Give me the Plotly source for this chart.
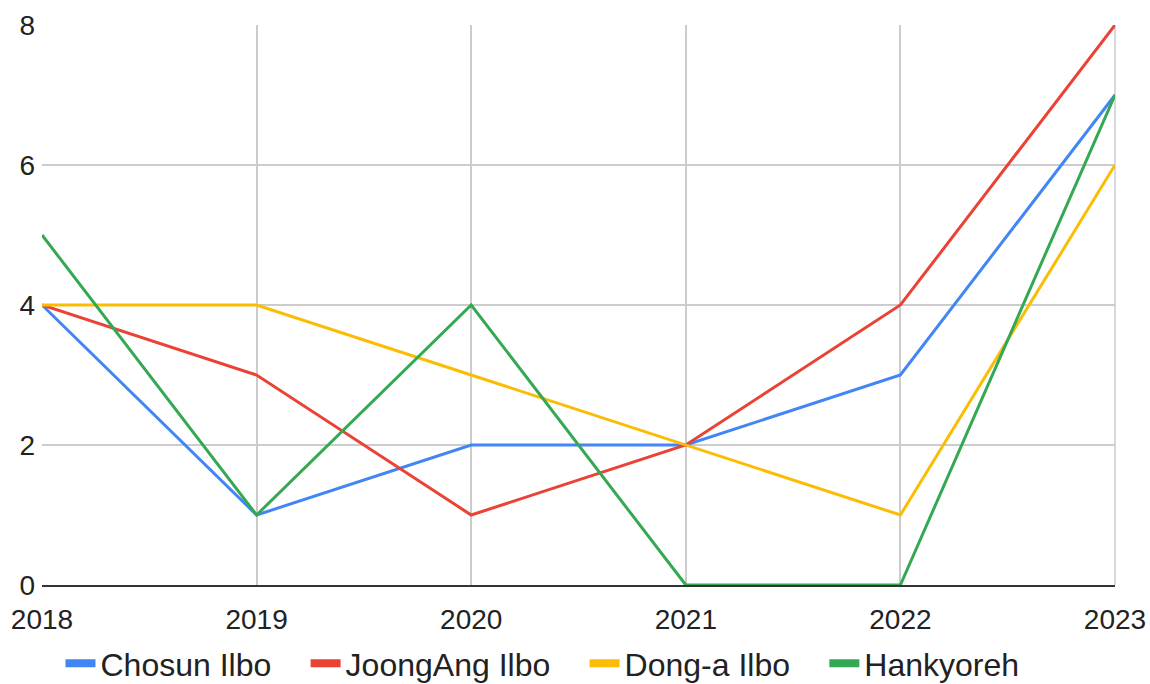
import plotly.graph_objects as go

years = ["2018", "2019", "2020", "2021", "2022", "2023"]
chosun = [4, 1, 2, 2, 3, 7]
joongang = [4, 3, 1, 2, 4, 8]
donga = [4, 4, 3, 2, 1, 6]
hankyoreh = [5, 1, 4, 0, 0, 7]

series = [
    ("Chosun Ilbo", chosun, "#4285F4"),
    ("JoongAng Ilbo", joongang, "#EA4335"),
    ("Dong-a Ilbo", donga, "#FBBC04"),
    ("Hankyoreh", hankyoreh, "#34A853"),
]

fig = go.Figure()
for name, vals, color in series:
    fig.add_trace(go.Scatter(
        x=list(range(len(years))), y=vals, name=name, mode="lines",
        line=dict(color=color, width=3), showlegend=False,
    ))
# legend entries with thicker swatches (padding widens the item gaps)
for i, (name, vals, color) in enumerate(series):
    pad = "\u00a0" * 3 + "\u200a" if i < len(series) - 1 else ""
    fig.add_trace(go.Scatter(
        x=[None], y=[None], name=name + pad, mode="lines",
        line=dict(color=color, width=8),
    ))

fig.update_layout(
    width=1150, height=684,
    margin=dict(l=42, r=35, t=25, b=99, autoexpand=False),
    paper_bgcolor="white", plot_bgcolor="white",
    font=dict(family="Arial, Liberation Sans, sans-serif", size=28, color="#222222"),
    showlegend=True,
    legend=dict(orientation="h", x=0.0526, xanchor="left", xref="container",
                y=0.03, yanchor="middle", yref="container",
                font=dict(size=32), itemwidth=30, tracegroupgap=0),
)
fig.update_xaxes(
    tickmode="array", tickvals=list(range(len(years))), ticktext=years,
    range=[0, len(years) - 1], showgrid=True, gridcolor="#cccccc", gridwidth=1.5,
    showline=True, linecolor="#333333", linewidth=2, mirror=False,
    ticks="", ticklabelstandoff=8, zeroline=False,
)
fig.update_yaxes(
    range=[0, 8], tickvals=[0, 2, 4, 6, 8], showgrid=True, gridcolor="#cccccc",
    gridwidth=1.5, zeroline=False, ticks="", showline=False, ticklabelstandoff=6,
)
fig.add_shape(type="line", xref="paper", yref="paper", x0=1, x1=1, y0=0, y1=1,
              line=dict(color="#cccccc", width=1.5), layer="below")

# drop the default page margin so the figure fills the window exactly
fig.write_html("out.html", config={"displayModeBar": False},
               post_script="document.body.style.margin='0';")
